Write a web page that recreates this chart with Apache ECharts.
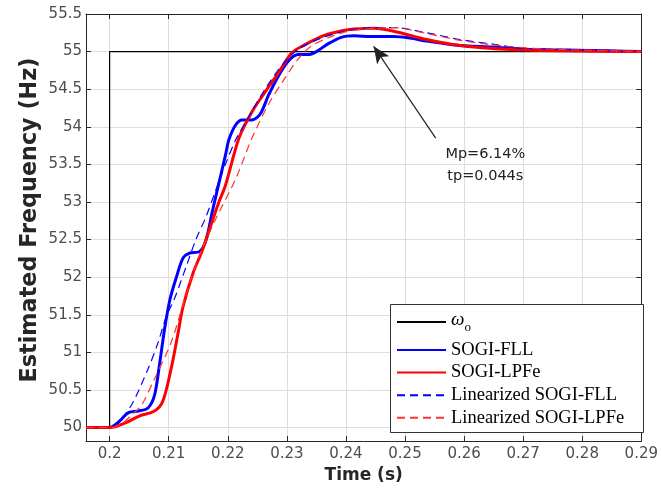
<!DOCTYPE html>
<html>
<head>
<meta charset="utf-8">
<script src="https://cdn.jsdelivr.net/npm/echarts@6/dist/echarts.min.js"></script>
<style>html,body{margin:0;padding:0;background:#fff}#c{width:661px;height:489px}</style>
</head>
<body>
<div id="c"></div>
<script>
const xTicks = [0.2,0.21,0.22,0.23,0.24,0.25,0.26,0.27,0.28,0.29];
const yTicks = [50,50.5,51,51.5,52,52.5,53,53.5,54,54.5,55,55.5];
const seriesNames = ['\u03c9o','SOGI-FLL','SOGI-LPFe','Linearized SOGI-FLL','Linearized SOGI-LPFe'];
const omegaRef = [[0.196,50],[0.2,50],[0.2,55],[0.29,55]];
const sogiFll = [[0.196,50],[0.2,50],[0.201,50.04],[0.202,50.11],[0.2032,50.2],[0.2049,50.22],[0.2065,50.26],[0.2076,50.43],[0.2085,50.87],[0.2093,51.31],[0.2102,51.7],[0.2113,52.0],[0.2124,52.25],[0.2135,52.32],[0.2152,52.34],[0.2163,52.49],[0.2174,52.88],[0.2185,53.25],[0.2196,53.62],[0.2202,53.83],[0.2213,54.02],[0.2224,54.09],[0.2241,54.09],[0.2255,54.17],[0.2269,54.42],[0.2286,54.68],[0.2302,54.87],[0.2319,54.96],[0.2336,54.96],[0.235,55.0],[0.2369,55.1],[0.2392,55.19],[0.2414,55.21],[0.2442,55.2],[0.2481,55.2],[0.2508,55.18],[0.2537,55.14],[0.2593,55.08],[0.2648,55.06],[0.2704,55.03],[0.2776,55.02],[0.2844,55.01],[0.29,55.0]];
const sogiLpfe = [[0.196,50],[0.2,50],[0.2026,50.06],[0.2049,50.15],[0.2076,50.22],[0.209,50.35],[0.2104,50.78],[0.2115,51.22],[0.2124,51.6],[0.2141,52.05],[0.2157,52.36],[0.2174,52.75],[0.2185,53.0],[0.2196,53.22],[0.2219,53.85],[0.2241,54.2],[0.2263,54.46],[0.2286,54.72],[0.2308,54.98],[0.233,55.09],[0.235,55.17],[0.2369,55.23],[0.2403,55.29],[0.2448,55.31],[0.2481,55.27],[0.2537,55.16],[0.2593,55.08],[0.2648,55.04],[0.2704,55.02],[0.276,55.01],[0.29,55.0]];
const linSogiFll = [[0.196,50],[0.2,50],[0.2015,50.08],[0.2037,50.3],[0.2065,50.78],[0.2082,51.13],[0.2096,51.48],[0.211,51.72],[0.213,52.15],[0.2146,52.5],[0.2163,52.8],[0.2177,53.1],[0.2196,53.5],[0.2213,53.82],[0.223,54.06],[0.2263,54.5],[0.2291,54.81],[0.2319,55.03],[0.2358,55.18],[0.2403,55.28],[0.2448,55.32],[0.2481,55.32],[0.2537,55.25],[0.2593,55.16],[0.2648,55.1],[0.2692,55.05],[0.276,55.03],[0.2844,55.01],[0.29,55.0]];
const linSogiLpfe = [[0.196,50],[0.2,50],[0.202,50.05],[0.2035,50.15],[0.2054,50.3],[0.2076,50.65],[0.2104,51.13],[0.2121,51.55],[0.2141,52.05],[0.2157,52.38],[0.218,52.78],[0.2213,53.3],[0.2241,53.85],[0.2269,54.3],[0.2297,54.65],[0.2319,54.9],[0.2341,55.07],[0.2369,55.18],[0.2403,55.27],[0.2448,55.31],[0.2481,55.32],[0.2537,55.24],[0.2593,55.15],[0.2648,55.09],[0.2704,55.05],[0.276,55.03],[0.2844,55.01],[0.29,55.0]];
const annoArrow = [[0.2552,53.85],[0.2447,55.07]];
const annoTextPos = [0.2636,53.49];
const annoText = 'Mp=6.14%\ntp=0.044s';
const yTitle = 'Estimated Frequency (Hz)';
const xTitle = 'Time (s)';

const chart = echarts.init(document.getElementById('c'), null, {renderer:'canvas'});
const axisCol = '#262626';
const sansFam = 'DejaVu Sans, Arial';
const serifFam = 'Liberation Serif, Times New Roman';
const labelFont = {fontFamily:sansFam, fontSize:15, color:'#4d4d4d'};
const fmt = v => String(+v.toFixed(3));
const line = (name, data, color, width, dashed, z) => ({
  name, type:'line', data, symbol:'none', smooth:0.3, z,
  lineStyle:{color, width, type: dashed ? [8,5] : 'solid'}, itemStyle:{color},
  emphasis:{disabled:true}, animation:false
});
const s0 = line(seriesNames[0], omegaRef, '#000', 1.2, false, 2);
s0.smooth = false;
s0.markLine = {silent:true, symbol:['none','arrow'], symbolSize:[11,17], animation:false,
  lineStyle:{color:'#222', width:1.2, type:'solid'}, label:{show:false},
  data:[[{coord:annoArrow[0]},{coord:annoArrow[1]}]]};
s0.markPoint = {silent:true, symbol:'circle', symbolSize:0, animation:false,
  label:{show:true, formatter:annoText, fontFamily:sansFam, fontSize:14.5, color:'#222', lineHeight:22, align:'center', verticalAlign:'middle', position:'inside'},
  data:[{coord:annoTextPos}]};
const legendCommon = {
  orient:'vertical', left:390, itemWidth:49, itemHeight:14, itemGap:0, padding:[0,0,0,6],
  selectedMode:false, itemStyle:{opacity:0}, z:10
};
chart.setOption({
  backgroundColor:'#fff',
  animation:false,
  grid:{left:86, top:14, right:14, bottom:42, containLabel:false},
  graphic:[
    {type:'text', x:30, y:220, rotation:Math.PI/2, silent:true,
     style:{text:yTitle, fontFamily:sansFam, fontSize:22.3, fontWeight:'bold', fill:'#262626', align:'center', verticalAlign:'middle'}},
    {type:'rect', left:390, top:304, z:5, silent:true, shape:{width:253, height:128},
     style:{fill:'#fff', stroke:'#333', lineWidth:1}}
  ],
  xAxis:[{
    type:'value', min:0.196, max:0.29, position:'bottom',
    name:xTitle, nameLocation:'middle', nameGap:23,
    nameTextStyle:{fontFamily:sansFam, fontSize:17, fontWeight:'bold', color:'#262626'},
    axisLine:{show:true, onZero:false, lineStyle:{color:axisCol, width:1}},
    axisTick:{show:true, inside:true, length:5, customValues:xTicks, lineStyle:{color:axisCol}},
    axisLabel:Object.assign({customValues:xTicks, formatter:fmt, margin:6}, labelFont),
    splitLine:{show:true, lineStyle:{color:'#dedede', width:1}}
  },{
    type:'value', min:0.196, max:0.29, position:'top',
    axisLine:{show:true, onZero:false, lineStyle:{color:axisCol, width:1}},
    axisTick:{show:true, inside:true, length:5, customValues:xTicks, lineStyle:{color:axisCol}},
    axisLabel:{show:false}, splitLine:{show:false}
  }],
  yAxis:[{
    type:'value', min:49.82, max:55.5, position:'left',
    axisLine:{show:true, onZero:false, lineStyle:{color:axisCol, width:1}},
    axisTick:{show:true, inside:true, length:5, customValues:yTicks, lineStyle:{color:axisCol}},
    axisLabel:Object.assign({customValues:yTicks, formatter:fmt, margin:4}, labelFont),
    splitLine:{show:true, lineStyle:{color:'#dedede', width:1}}
  },{
    type:'value', min:49.82, max:55.5, position:'right',
    axisLine:{show:true, onZero:false, lineStyle:{color:axisCol, width:1}},
    axisTick:{show:true, inside:true, length:5, customValues:yTicks, lineStyle:{color:axisCol}},
    axisLabel:{show:false}, splitLine:{show:false}
  }],
  legend:[
    Object.assign({}, legendCommon, {
      top:310, data:[seriesNames[0]],
      textStyle:{fontFamily:serifFam, fontSize:18.5, color:'#000',
        rich:{w:{fontFamily:serifFam, fontStyle:'italic', fontSize:19, color:'#000', padding:[0,0,5,0]},
              s:{fontFamily:serifFam, fontSize:13, color:'#000', padding:[11,0,0,0]}}},
      formatter: () => '{w|\u03c9}{s|o}'
    }),
    Object.assign({}, legendCommon, {
      top:338.7, data:seriesNames.slice(1),
      textStyle:{fontFamily:serifFam, fontSize:18.5, lineHeight:22.6, color:'#000'}
    })
  ],
  series:[
    s0,
    line(seriesNames[1], sogiFll, '#0000ff', 3, false, 3),
    line(seriesNames[2], sogiLpfe, '#ff0000', 3, false, 4),
    line(seriesNames[3], linSogiFll, '#0000ff', 1.2, true, 5),
    line(seriesNames[4], linSogiLpfe, '#ff3333', 1.2, true, 6)
  ]
});
</script>
</body>
</html>
